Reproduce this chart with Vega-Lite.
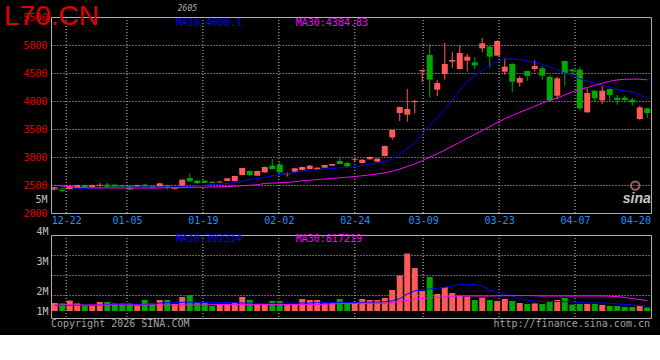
{
  "$schema": "https://vega.github.io/schema/vega-lite/v6.json",
  "background": "#000000",
  "padding": {"left": 3, "top": 2, "right": 10, "bottom": 5},
  "spacing": -1,
  "config": {
    "view": {"stroke": "#b0b0b0", "strokeWidth": 1},
    "scale": {"continuousPadding": 0},
    "axis": {"labelFont": "DejaVu Sans Mono", "labelFontSize": 10, "ticks": false, "tickSize": 0, "domain": false, "gridColor": "#c8c8c8", "gridDash": [1, 2], "gridWidth": 1}
  },
  "datasets": {
    "t": [{"g": 3}, {"g": 11}, {"g": 21}, {"g": 31}, {"g": 41}, {"g": 50}, {"g": 60}, {"g": 70}, {"g": 79}],
    "k": [
      {"i":0,"d":"12-17","o":2417,"h":2465,"l":2405,"c":2458,"v":600000,"m10":2430,"m30":2498,"vm10":480000,"vm30":500000},
      {"i":1,"d":"12-18","o":2440,"h":2450,"l":2375,"c":2390,"v":580000,"m10":2418,"m30":2480,"vm10":480000,"vm30":500000},
      {"i":2,"d":"12-19","o":2417,"h":2495,"l":2410,"c":2488,"v":720000,"m10":2420,"m30":2462,"vm10":480000,"vm30":500000},
      {"i":3,"d":"12-22","o":2458,"h":2505,"l":2450,"c":2500,"v":580000,"m10":2435,"m30":2455,"vm10":490000,"vm30":500000},
      {"i":4,"d":"12-23","o":2500,"h":2506,"l":2458,"c":2464,"v":480000,"m10":2440,"m30":2452,"vm10":490000,"vm30":500000},
      {"i":5,"d":"12-24","o":2464,"h":2506,"l":2460,"c":2500,"v":480000,"m10":2445,"m30":2450,"vm10":500000,"vm30":500000},
      {"i":6,"d":"12-25","o":2490,"h":2536,"l":2464,"c":2505,"v":650000,"m10":2450,"m30":2448,"vm10":500000,"vm30":500000},
      {"i":7,"d":"12-26","o":2506,"h":2536,"l":2465,"c":2470,"v":650000,"m10":2455,"m30":2448,"vm10":530000,"vm30":500000},
      {"i":8,"d":"12-29","o":2506,"h":2510,"l":2465,"c":2470,"v":580000,"m10":2458,"m30":2447,"vm10":530000,"vm30":500000},
      {"i":9,"d":"12-30","o":2500,"h":2505,"l":2462,"c":2470,"v":580000,"m10":2460,"m30":2446,"vm10":530000,"vm30":500000},
      {"i":10,"d":"12-31","o":2488,"h":2495,"l":2405,"c":2417,"v":580000,"m10":2460,"m30":2446,"vm10":530000,"vm30":500000},
      {"i":11,"d":"01-05","o":2470,"h":2505,"l":2465,"c":2500,"v":480000,"m10":2463,"m30":2446,"vm10":530000,"vm30":500000},
      {"i":12,"d":"01-06","o":2506,"h":2520,"l":2455,"c":2470,"v":750000,"m10":2465,"m30":2446,"vm10":530000,"vm30":500000},
      {"i":13,"d":"01-07","o":2482,"h":2490,"l":2440,"c":2446,"v":580000,"m10":2463,"m30":2446,"vm10":540000,"vm30":500000},
      {"i":14,"d":"01-08","o":2470,"h":2540,"l":2465,"c":2530,"v":750000,"m10":2465,"m30":2448,"vm10":600000,"vm30":500000},
      {"i":15,"d":"01-09","o":2500,"h":2505,"l":2417,"c":2464,"v":750000,"m10":2467,"m30":2450,"vm10":620000,"vm30":500000},
      {"i":16,"d":"01-12","o":2430,"h":2455,"l":2420,"c":2445,"v":550000,"m10":2464,"m30":2452,"vm10":620000,"vm30":500000},
      {"i":17,"d":"01-13","o":2488,"h":2600,"l":2480,"c":2595,"v":900000,"m10":2467,"m30":2455,"vm10":630000,"vm30":500000},
      {"i":18,"d":"01-14","o":2625,"h":2702,"l":2560,"c":2565,"v":1000000,"m10":2477,"m30":2458,"vm10":640000,"vm30":500000},
      {"i":19,"d":"01-15","o":2577,"h":2585,"l":2525,"c":2530,"v":630000,"m10":2486,"m30":2460,"vm10":640000,"vm30":500000},
      {"i":20,"d":"01-16","o":2577,"h":2582,"l":2535,"c":2542,"v":620000,"m10":2496,"m30":2462,"vm10":630000,"vm30":500000},
      {"i":21,"d":"01-19","o":2556,"h":2562,"l":2530,"c":2536,"v":450000,"m10":2507,"m30":2465,"vm10":630000,"vm30":520000},
      {"i":22,"d":"01-20","o":2545,"h":2571,"l":2540,"c":2560,"v":550000,"m10":2516,"m30":2468,"vm10":620000,"vm30":520000},
      {"i":23,"d":"01-21","o":2571,"h":2625,"l":2565,"c":2619,"v":550000,"m10":2529,"m30":2472,"vm10":620000,"vm30":520000},
      {"i":24,"d":"01-22","o":2571,"h":2665,"l":2565,"c":2661,"v":620000,"m10":2545,"m30":2478,"vm10":610000,"vm30":520000},
      {"i":25,"d":"01-23","o":2679,"h":2810,"l":2675,"c":2804,"v":900000,"m10":2568,"m30":2488,"vm10":600000,"vm30":520000},
      {"i":26,"d":"01-26","o":2750,"h":2760,"l":2665,"c":2679,"v":750000,"m10":2597,"m30":2495,"vm10":600000,"vm30":520000},
      {"i":27,"d":"01-27","o":2667,"h":2755,"l":2660,"c":2750,"v":520000,"m10":2617,"m30":2505,"vm10":580000,"vm30":520000},
      {"i":28,"d":"01-28","o":2726,"h":2830,"l":2720,"c":2821,"v":520000,"m10":2637,"m30":2528,"vm10":580000,"vm30":520000},
      {"i":29,"d":"01-29","o":2845,"h":2964,"l":2780,"c":2786,"v":700000,"m10":2663,"m30":2532,"vm10":580000,"vm30":520000},
      {"i":30,"d":"01-30","o":2863,"h":2917,"l":2720,"c":2726,"v":700000,"m10":2685,"m30":2538,"vm10":580000,"vm30":520000},
      {"i":31,"d":"02-02","o":2690,"h":2726,"l":2649,"c":2705,"v":520000,"m10":2702,"m30":2548,"vm10":600000,"vm30":520000},
      {"i":32,"d":"02-03","o":2738,"h":2810,"l":2730,"c":2798,"v":520000,"m10":2722,"m30":2558,"vm10":600000,"vm30":520000},
      {"i":33,"d":"02-04","o":2768,"h":2830,"l":2760,"c":2821,"v":800000,"m10":2745,"m30":2575,"vm10":600000,"vm30":520000},
      {"i":34,"d":"02-05","o":2786,"h":2857,"l":2775,"c":2845,"v":750000,"m10":2764,"m30":2585,"vm10":600000,"vm30":520000},
      {"i":35,"d":"02-06","o":2774,"h":2815,"l":2770,"c":2810,"v":750000,"m10":2774,"m30":2597,"vm10":620000,"vm30":520000},
      {"i":36,"d":"02-09","o":2810,"h":2862,"l":2805,"c":2857,"v":580000,"m10":2783,"m30":2607,"vm10":620000,"vm30":520000},
      {"i":37,"d":"02-10","o":2845,"h":2880,"l":2840,"c":2875,"v":580000,"m10":2798,"m30":2618,"vm10":620000,"vm30":560000},
      {"i":38,"d":"02-11","o":2929,"h":2976,"l":2870,"c":2875,"v":800000,"m10":2807,"m30":2628,"vm10":620000,"vm30":570000},
      {"i":39,"d":"02-12","o":2893,"h":2920,"l":2825,"c":2833,"v":580000,"m10":2812,"m30":2640,"vm10":620000,"vm30":580000},
      {"i":40,"d":"02-13","o":2945,"h":2976,"l":2925,"c":2960,"v":580000,"m10":2826,"m30":2650,"vm10":620000,"vm30":580000},
      {"i":41,"d":"02-24","o":2893,"h":2960,"l":2885,"c":2952,"v":800000,"m10":2850,"m30":2665,"vm10":640000,"vm30":580000},
      {"i":42,"d":"02-25","o":2960,"h":3010,"l":2950,"c":3000,"v":750000,"m10":2872,"m30":2680,"vm10":640000,"vm30":580000},
      {"i":43,"d":"02-26","o":2917,"h":2976,"l":2905,"c":2970,"v":750000,"m10":2890,"m30":2697,"vm10":650000,"vm30":580000},
      {"i":44,"d":"02-27","o":3018,"h":3205,"l":3010,"c":3196,"v":850000,"m10":2915,"m30":2716,"vm10":660000,"vm30":580000},
      {"i":45,"d":"03-02","o":3351,"h":3490,"l":3310,"c":3482,"v":1250000,"m10":2966,"m30":2744,"vm10":700000,"vm30":600000},
      {"i":46,"d":"03-03","o":3786,"h":3900,"l":3643,"c":3893,"v":1970000,"m10":3052,"m30":2785,"vm10":820000,"vm30":700000},
      {"i":47,"d":"03-04","o":3756,"h":4214,"l":3631,"c":3857,"v":3070000,"m10":3152,"m30":2830,"vm10":1050000,"vm30":720000},
      {"i":48,"d":"03-05","o":3980,"h":4018,"l":3780,"c":4000,"v":2350000,"m10":3258,"m30":2875,"vm10":1200000,"vm30":800000},
      {"i":49,"d":"03-06","o":4530,"h":4560,"l":4333,"c":4554,"v":1200000,"m10":3400,"m30":2933,"vm10":1250000,"vm30":820000},
      {"i":50,"d":"03-09","o":4821,"h":5018,"l":4060,"c":4381,"v":1900000,"m10":3558,"m30":2998,"vm10":1300000,"vm30":860000},
      {"i":51,"d":"03-10","o":4202,"h":4375,"l":4083,"c":4321,"v":1050000,"m10":3697,"m30":3058,"vm10":1330000,"vm30":880000},
      {"i":52,"d":"03-11","o":4482,"h":5036,"l":4381,"c":4661,"v":1400000,"m10":3849,"m30":3123,"vm10":1380000,"vm30":900000},
      {"i":53,"d":"03-12","o":4702,"h":4875,"l":4583,"c":4732,"v":1100000,"m10":4020,"m30":3193,"vm10":1450000,"vm30":930000},
      {"i":54,"d":"03-13","o":4571,"h":5000,"l":4560,"c":4857,"v":950000,"m10":4191,"m30":3265,"vm10":1530000,"vm30":950000},
      {"i":55,"d":"03-16","o":4720,"h":4839,"l":4524,"c":4792,"v":920000,"m10":4340,"m30":3335,"vm10":1530000,"vm30":950000},
      {"i":56,"d":"03-17","o":4690,"h":4786,"l":4570,"c":4635,"v":750000,"m10":4443,"m30":3401,"vm10":1530000,"vm30":950000},
      {"i":57,"d":"03-18","o":4940,"h":5125,"l":4869,"c":5030,"v":870000,"m10":4539,"m30":3471,"vm10":1450000,"vm30":950000},
      {"i":58,"d":"03-19","o":4970,"h":4980,"l":4601,"c":4792,"v":750000,"m10":4638,"m30":3542,"vm10":1250000,"vm30":950000},
      {"i":59,"d":"03-20","o":4810,"h":5089,"l":4800,"c":5071,"v":700000,"m10":4703,"m30":3613,"vm10":1130000,"vm30":960000},
      {"i":60,"d":"03-23","o":4524,"h":4762,"l":4470,"c":4613,"v":800000,"m10":4741,"m30":3683,"vm10":1050000,"vm30":960000},
      {"i":61,"d":"03-24","o":4661,"h":4680,"l":4155,"c":4345,"v":700000,"m10":4753,"m30":3742,"vm10":950000,"vm30":970000},
      {"i":62,"d":"03-25","o":4327,"h":4440,"l":4256,"c":4411,"v":600000,"m10":4742,"m30":3796,"vm10":820000,"vm30":970000},
      {"i":63,"d":"03-26","o":4536,"h":4540,"l":4363,"c":4446,"v":550000,"m10":4715,"m30":3850,"vm10":740000,"vm30":970000},
      {"i":64,"d":"03-27","o":4571,"h":4726,"l":4530,"c":4625,"v":580000,"m10":4689,"m30":3907,"vm10":700000,"vm30":960000},
      {"i":65,"d":"03-30","o":4583,"h":4630,"l":4381,"c":4452,"v":550000,"m10":4660,"m30":3964,"vm10":670000,"vm30":950000},
      {"i":66,"d":"03-31","o":4430,"h":4460,"l":4000,"c":4010,"v":700000,"m10":4612,"m30":4010,"vm10":670000,"vm30":950000},
      {"i":67,"d":"04-01","o":4095,"h":4435,"l":4024,"c":4405,"v":750000,"m10":4548,"m30":4055,"vm10":670000,"vm30":950000},
      {"i":68,"d":"04-02","o":4714,"h":4720,"l":4274,"c":4500,"v":850000,"m10":4503,"m30":4108,"vm10":670000,"vm30":950000},
      {"i":69,"d":"04-03","o":4560,"h":4583,"l":4452,"c":4530,"v":520000,"m10":4461,"m30":4163,"vm10":660000,"vm30":950000},
      {"i":70,"d":"04-07","o":4560,"h":4601,"l":3833,"c":3869,"v":550000,"m10":4397,"m30":4207,"vm10":620000,"vm30":950000},
      {"i":71,"d":"04-08","o":3798,"h":4226,"l":3790,"c":4143,"v":550000,"m10":4349,"m30":4242,"vm10":600000,"vm30":950000},
      {"i":72,"d":"04-09","o":4185,"h":4190,"l":3995,"c":4048,"v":550000,"m10":4321,"m30":4279,"vm10":600000,"vm30":950000},
      {"i":73,"d":"04-10","o":4012,"h":4274,"l":3946,"c":4185,"v":500000,"m10":4290,"m30":4317,"vm10":600000,"vm30":950000},
      {"i":74,"d":"04-13","o":4214,"h":4226,"l":3990,"c":4107,"v":450000,"m10":4251,"m30":4352,"vm10":580000,"vm30":940000},
      {"i":75,"d":"04-14","o":4060,"h":4107,"l":3934,"c":4018,"v":450000,"m10":4204,"m30":4376,"vm10":550000,"vm30":920000},
      {"i":76,"d":"04-15","o":4060,"h":4095,"l":3976,"c":4018,"v":400000,"m10":4182,"m30":4387,"vm10":530000,"vm30":880000},
      {"i":77,"d":"04-16","o":4024,"h":4048,"l":3917,"c":3976,"v":400000,"m10":4160,"m30":4391,"vm10":500000,"vm30":820000},
      {"i":78,"d":"04-17","o":3679,"h":3917,"l":3667,"c":3887,"v":450000,"m10":4108,"m30":4391,"vm10":470000,"vm30":770000},
      {"i":79,"d":"04-20","o":3869,"h":3880,"l":3700,"c":3786,"v":380000,"m10":4043,"m30":4377,"vm10":450000,"vm30":720000}
    ]
  },
  "vconcat": [
    {
      "width": 600,
      "height": 196,
      "title": {"text": "L70.CN", "anchor": "start", "frame": "group", "font": "Liberation Sans", "fontSize": 28, "fontWeight": "normal", "color": "#e00000", "baseline": "alphabetic", "offset": -48, "dx": -47},
      "layer": [
        {
          "data": {"name": "t"},
          "mark": {"type": "rule", "color": "#c8c8c8", "strokeDash": [1, 2], "strokeWidth": 1},
          "encoding": {
            "x": {"field": "g", "type": "quantitative", "scale": {"domain": [1, 80], "nice": false, "zero": false, "padding": 0},
              "axis": {"values": [3, 11, 21, 31, 41, 50, 60, 70, 79], "tickCount": 30, "labelExpr": "datum.value == 3 ? '12-22' : datum.value == 11 ? '01-05' : datum.value == 21 ? '01-19' : datum.value == 31 ? '02-02' : datum.value == 41 ? '02-24' : datum.value == 50 ? '03-09' : datum.value == 60 ? '03-23' : datum.value == 70 ? '04-07' : '04-20'", "labelColor": "#1e90ff", "grid": false, "title": null, "labelPadding": 2, "labelFlush": 10, "labelFlushOffset": 7, "labelOverlap": false}},
            "strokeOpacity": {"condition": {"test": "datum.g > 78", "value": 0}, "value": 1}
          }
        },
        {
          "layer": [
            {
              "data": {"name": "k"},
              "mark": {"type": "rule", "strokeWidth": 1},
              "encoding": {
                "x": {"field": "i", "type": "quantitative", "scale": {"domain": [-0.5, 79.5], "nice": false, "zero": false, "padding": 0}, "axis": null},
                "y": {"field": "l", "type": "quantitative", "scale": {"domain": [2000, 5500], "nice": false, "zero": false},
                  "axis": {"values": [2000, 2250, 2500, 3000, 3500, 4000, 4500, 5000, 5500], "tickCount": 30, "format": "d", "labelExpr": "datum.value == 2250 ? '5M' : datum.label", "labelColor": {"condition": {"test": "datum.value == 2250", "value": "#c0c0c0"}, "value": "#e00000"}, "grid": true, "gridOpacity": {"condition": {"test": "datum.value == 2000 || datum.value == 2250 || datum.value == 5500", "value": 0}, "value": 1}, "title": null, "labelPadding": 4, "labelOverlap": false}},
                "y2": {"field": "h"},
                "color": {"condition": {"test": "datum.c >= datum.o", "value": "#ff5a5a"}, "value": "#00a800"}
              }
            },
            {
              "data": {"name": "k"},
              "mark": {"type": "bar", "width": 6},
              "encoding": {
                "x": {"field": "i", "type": "quantitative", "scale": {"domain": [-0.5, 79.5], "nice": false, "zero": false, "padding": 0}, "axis": null},
                "y": {"field": "o", "type": "quantitative", "scale": {"domain": [2000, 5500], "nice": false, "zero": false}},
                "y2": {"field": "c"},
                "color": {"condition": {"test": "datum.c >= datum.o", "value": "#ff5a5a"}, "value": "#00a800"}
              }
            },
            {
              "data": {"name": "k"},
              "mark": {"type": "line", "color": "#0000ff", "strokeWidth": 1},
              "encoding": {
                "x": {"field": "i", "type": "quantitative", "scale": {"domain": [-0.5, 79.5], "nice": false, "zero": false, "padding": 0}, "axis": null},
                "y": {"field": "m10", "type": "quantitative", "scale": {"domain": [2000, 5500], "nice": false, "zero": false}}
              }
            },
            {
              "data": {"name": "k"},
              "mark": {"type": "line", "color": "#ff00ff", "strokeWidth": 1},
              "encoding": {
                "x": {"field": "i", "type": "quantitative", "scale": {"domain": [-0.5, 79.5], "nice": false, "zero": false, "padding": 0}, "axis": null},
                "y": {"field": "m30", "type": "quantitative", "scale": {"domain": [2000, 5500], "nice": false, "zero": false}}
              }
            },
            {
              "data": {"values": [{}]},
              "mark": {"type": "text", "align": "left", "baseline": "top", "font": "DejaVu Sans Mono", "fontSize": 10, "color": "#0000ff", "dx": 1, "dy": 1},
              "encoding": {"x": {"datum": 16}, "y": {"datum": 5500}, "text": {"value": "MA10:4008.1"}}
            },
            {
              "data": {"values": [{}]},
              "mark": {"type": "text", "align": "left", "baseline": "top", "font": "DejaVu Sans Mono", "fontSize": 10, "color": "#ff00ff", "dx": 1, "dy": 1},
              "encoding": {"x": {"datum": 32}, "y": {"datum": 5500}, "text": {"value": "MA30:4384.83"}}
            },
            {
              "data": {"values": [{}]},
              "mark": {"type": "text", "align": "left", "baseline": "bottom", "font": "DejaVu Sans Mono", "fontSize": 8, "fontStyle": "italic", "color": "#b0b0b0", "dx": 3, "dy": -4},
              "encoding": {"x": {"datum": 16}, "y": {"datum": 5500}, "text": {"value": "2605"}}
            },
            {
              "data": {"values": [{}]},
              "mark": {"type": "point", "shape": "circle", "filled": false, "stroke": "#e08a8a", "strokeWidth": 2, "size": 70},
              "encoding": {"x": {"datum": 77.4}, "y": {"datum": 2490}}
            },
            {
              "data": {"values": [{}]},
              "mark": {"type": "text", "align": "center", "baseline": "middle", "font": "Liberation Sans", "fontSize": 14, "fontStyle": "italic", "fontWeight": "bold", "color": "#c8c8c8"},
              "encoding": {"x": {"datum": 77.6}, "y": {"datum": 2250}, "text": {"value": "sina"}}
            }
          ]
        }
      ],
      "resolve": {"scale": {"x": "independent"}}
    },
    {
      "width": 600,
      "height": 83,
      "layer": [
        {
          "data": {"name": "t"},
          "mark": {"type": "rule", "color": "#c8c8c8", "strokeDash": [1, 2], "strokeWidth": 1},
          "encoding": {
            "x": {"field": "g", "type": "quantitative", "scale": {"domain": [1, 80], "nice": false, "zero": false, "padding": 0}, "axis": null},
            "strokeOpacity": {"condition": {"test": "datum.g > 78", "value": 0}, "value": 1}
          }
        },
        {
          "layer": [
            {
              "data": {"name": "k"},
              "mark": {"type": "bar", "width": 6},
              "encoding": {
                "x": {"field": "i", "type": "quantitative", "scale": {"domain": [-0.5, 79.5], "nice": false, "zero": false, "padding": 0}, "axis": null},
                "y": {"field": "v", "type": "quantitative", "scale": {"domain": [-150000, 4000000], "nice": false, "zero": false},
                  "axis": {"values": [1000000, 2000000, 3000000, 4000000], "tickCount": 30, "labelExpr": "(datum.value / 1000000) + 'M'", "labelColor": "#c0c0c0", "grid": true, "gridOpacity": {"condition": {"test": "datum.value == 4000000", "value": 0}, "value": 1}, "title": null, "labelPadding": 3, "labelOverlap": false,
                    "labelOffset": {"condition": [{"test": "datum.value >= 4000000", "value": -4}, {"test": "datum.value >= 3000000", "value": 6}], "value": 16}}},
                "y2": {"datum": 200000},
                "color": {"condition": {"test": "datum.c >= datum.o", "value": "#ff5a5a"}, "value": "#00a800"}
              }
            },
            {
              "data": {"name": "k"},
              "mark": {"type": "line", "color": "#0000ff", "strokeWidth": 1},
              "encoding": {
                "x": {"field": "i", "type": "quantitative", "scale": {"domain": [-0.5, 79.5], "nice": false, "zero": false, "padding": 0}, "axis": null},
                "y": {"field": "vm10", "type": "quantitative", "scale": {"domain": [-150000, 4000000], "nice": false, "zero": false}}
              }
            },
            {
              "data": {"name": "k"},
              "mark": {"type": "line", "color": "#ff00ff", "strokeWidth": 1},
              "encoding": {
                "x": {"field": "i", "type": "quantitative", "scale": {"domain": [-0.5, 79.5], "nice": false, "zero": false, "padding": 0}, "axis": null},
                "y": {"field": "vm30", "type": "quantitative", "scale": {"domain": [-150000, 4000000], "nice": false, "zero": false}}
              }
            },
            {
              "data": {"values": [{}]},
              "mark": {"type": "text", "align": "left", "baseline": "top", "font": "DejaVu Sans Mono", "fontSize": 10, "color": "#0000ff", "dx": 1, "dy": -1},
              "encoding": {"x": {"datum": 16}, "y": {"datum": 4000000}, "text": {"value": "MA10:392314"}}
            },
            {
              "data": {"values": [{}]},
              "mark": {"type": "text", "align": "left", "baseline": "top", "font": "DejaVu Sans Mono", "fontSize": 10, "color": "#ff00ff", "dx": 1, "dy": -1},
              "encoding": {"x": {"datum": 32}, "y": {"datum": 4000000}, "text": {"value": "MA30:817219"}}
            },
            {
              "data": {"values": [{}]},
              "mark": {"type": "text", "align": "left", "baseline": "alphabetic", "font": "DejaVu Sans Mono", "fontSize": 10, "color": "#a0a0a0"},
              "encoding": {"x": {"datum": -0.5}, "y": {"datum": -600000}, "text": {"value": "Copyright 2026 SINA.COM"}}
            },
            {
              "data": {"values": [{}]},
              "mark": {"type": "text", "align": "right", "baseline": "alphabetic", "font": "DejaVu Sans Mono", "fontSize": 10, "color": "#a0a0a0", "dx": -1},
              "encoding": {"x": {"datum": 79.5}, "y": {"datum": -600000}, "text": {"value": "http://finance.sina.com.cn"}}
            }
          ]
        }
      ],
      "resolve": {"scale": {"x": "independent"}}
    }
  ]
}
